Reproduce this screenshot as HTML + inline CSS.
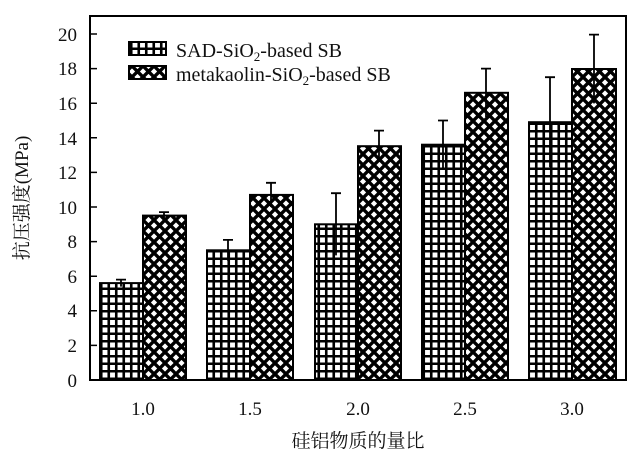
<!DOCTYPE html>
<html><head><meta charset="utf-8"><style>body{margin:0;background:#fff}</style></head><body>
<svg width="640" height="461" xmlns="http://www.w3.org/2000/svg" font-family="Liberation Serif, Noto Serif CJK SC, serif">
<defs>
<pattern id="g" width="7.5" height="7.5" patternUnits="userSpaceOnUse">
<rect width="7.5" height="7.5" fill="#fff"/><path d="M0 3.75H7.5M3.75 0V7.5" stroke="#000" stroke-width="2.6"/>
</pattern>
<pattern id="x" width="11" height="11" patternUnits="userSpaceOnUse">
<rect width="11" height="11" fill="#fff"/><path d="M0 0L11 11M11 0L0 11M-1 10L1 12M10 -1L12 1" stroke="#000" stroke-width="3.4"/>
</pattern>
</defs>
<g id="bars" stroke="#000" stroke-width="2">
<rect x="100" y="283.1" width="43" height="96.9" fill="url(#g)"/>
<rect x="143" y="215.6" width="43" height="164.4" fill="url(#x)"/>
<rect x="207" y="250.3" width="43" height="129.7" fill="url(#g)"/>
<rect x="250" y="194.9" width="43" height="185.1" fill="url(#x)"/>
<rect x="315" y="224.3" width="43" height="155.7" fill="url(#g)"/>
<rect x="358" y="146.2" width="43" height="233.8" fill="url(#x)"/>
<rect x="422" y="144.7" width="43" height="235.3" fill="url(#g)"/>
<rect x="465" y="92.8" width="43" height="287.2" fill="url(#x)"/>
<rect x="529" y="122.2" width="43" height="257.8" fill="url(#g)"/>
<rect x="572" y="69" width="44" height="311" fill="url(#x)"/>
</g>
<g stroke="#000" stroke-width="1.8" fill="none">
<path d="M121 279.6V286.6M116 279.6H126"/>
<path d="M164 212.1V219.1M159 212.1H169"/>
<path d="M228 239.9V260.7M223 239.9H233"/>
<path d="M271 182.8V207M266 182.8H276"/>
<path d="M336 193.2V255.4M331 193.2H341"/>
<path d="M379 130.6V161.8M374 130.6H384"/>
<path d="M443 120.5V168.9M438 120.5H448"/>
<path d="M486 68.6V117M481 68.6H491"/>
<path d="M550 77.2V167.2M545 77.2H555"/>
<path d="M594 34.6V103.4M589 34.6H599"/>
</g>
<rect x="90" y="16" width="536" height="364" fill="none" stroke="#000" stroke-width="2"/>
<g stroke="#000" stroke-width="1.5">
<path d="M90 345.4h7M90 310.8h7M90 276.2h7M90 241.6h7M90 207h7M90 172.4h7M90 137.8h7M90 103.2h7M90 68.6h7M90 34h7"/>
</g>
<g font-size="19" text-anchor="end" fill="#111">
<text x="77" y="387">0</text><text x="77" y="352">2</text><text x="77" y="317">4</text><text x="77" y="283">6</text><text x="77" y="248">8</text><text x="77" y="214">10</text><text x="77" y="179">12</text><text x="77" y="145">14</text><text x="77" y="110">16</text><text x="77" y="75">18</text><text x="77" y="41">20</text>
</g>
<g font-size="19" text-anchor="middle" fill="#111">
<text x="143" y="415">1.0</text><text x="250" y="415">1.5</text><text x="358" y="415">2.0</text><text x="465" y="415">2.5</text><text x="572" y="415">3.0</text>
<text x="358" y="447" font-size="19">硅铝物质的量比</text>
<text transform="translate(28 198) rotate(-90)" font-size="19">抗压强度(MPa)</text>
</g>
<rect x="129" y="42" width="37" height="13" fill="url(#g)" stroke="#000" stroke-width="2"/>
<rect x="129" y="66" width="37" height="13" fill="url(#x)" stroke="#000" stroke-width="2"/>
<g font-size="20" fill="#111">
<text x="176" y="57">SAD-SiO<tspan font-size="13" dy="4">2</tspan><tspan dy="-4">-based SB</tspan></text>
<text x="176" y="81">metakaolin-SiO<tspan font-size="13" dy="4">2</tspan><tspan dy="-4">-based SB</tspan></text>
</g>
</svg>
</body></html>
